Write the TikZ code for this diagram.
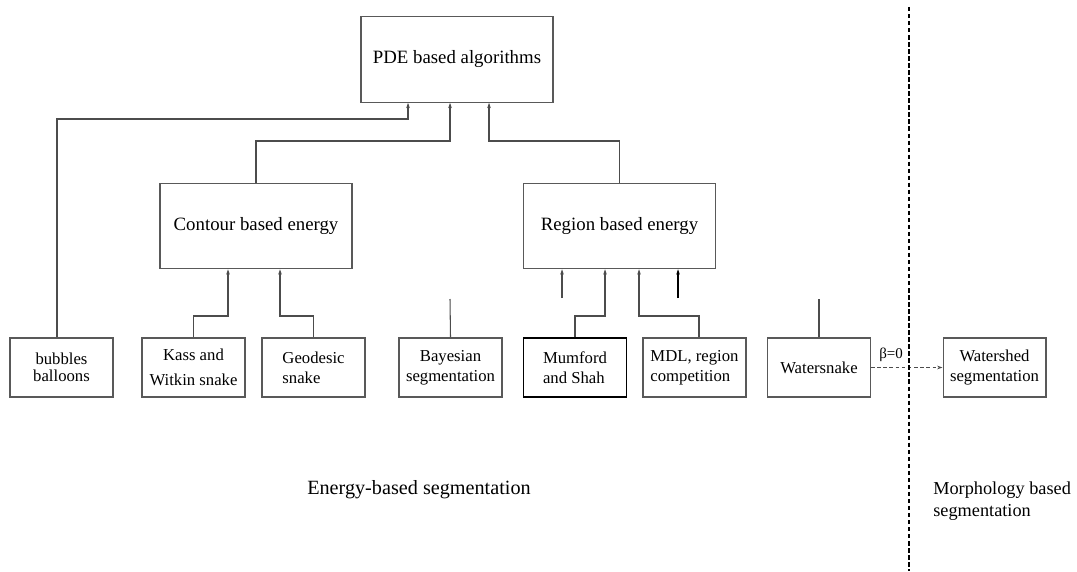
\documentclass[tikz,border=0pt]{standalone}
\usepackage{fontspec}
\setmainfont{Liberation Serif}
\usetikzlibrary{arrows.meta,calc}

\tikzset{
	bigbox/.style={draw=black!65, line width=0.6pt, minimum width=3.84cm, minimum height=1.71cm, inner sep=0pt, font=\fontsize{10.7}{12}\selectfont},
	smallbox/.style={draw=black!65, line width=0.6pt, minimum width=2.06cm, minimum height=1.18cm, inner sep=0pt, font=\fontsize{9.5}{11.5}\selectfont},
	link/.style={draw=black!70, line width=0.6pt, -{Stealth[length=3pt,width=2pt]}},
	wire/.style={draw=black!70, line width=0.6pt},
	divider/.style={draw=black, line width=0.7pt, dash pattern=on 2.5pt off 1.5pt},
	caption/.style={font=\fontsize{11.5}{13}\selectfont}
}

\begin{document}
\begin{tikzpicture}[x=0.02cm, y=-0.02cm]
			%%%%% START %%%%%
			
			\useasboundingbox (0,0) rectangle (1077,571);
			
			\node[bigbox] (pde) at (457,59.5) {PDE based algorithms};
			\node[bigbox] (contour) at (256,226) {Contour based energy};
			\node[bigbox] (region) at (619.5,226) {Region based energy};
			
			\node[smallbox, align=center] (bubbles) at (61.5,367.5) {bubbles\\[-2pt]balloons};
			\node[smallbox, align=center] (kass) at (193.5,367.5) {Kass and\\[3pt]Witkin snake};
			\node[smallbox, align=left] (geodesic) at (313.5,367.5) {Geodesic\\snake};
			\node[smallbox, align=center] (bayes) at (450.5,367.5) {Bayesian\\segmentation};
			\node[smallbox, align=left, draw=black, line width=0.8pt] (mumford) at (575,367.5) {Mumford\\and Shah};
			\node[smallbox, align=left] (mdl) at (694.5,367.5) {MDL, region\\competition};
			\node[smallbox] (watersnake) at (819,367.5) {Watersnake};
			\node[smallbox, align=center] (watershed) at (994.5,367.5) {Watershed\\segmentation};
			
			\draw[link] ([xshift=-0.09cm]bubbles.north) |- (408,119) -- (pde.south -| 408,119);
			\draw[link] (contour.north) |- (450,141) -- (pde.south -| 450,141);
			\draw[link] (region.north) |- (489,141) -- (pde.south -| 489,141);
			
			\draw[link] (kass.north) |- (228,316) -- (contour.south -| 228,316);
			\draw[link] (geodesic.north) |- (280,316) -- (contour.south -| 280,316);
			
			\coordinate (ra) at (562,298);
			\coordinate (rb) at (678,298);
			\draw[link] (ra) -- (region.south -| ra);
			\draw[link] (mumford.north) |- (605,316) -- (region.south -| 605,316);
			\draw[link] ([xshift=0.09cm]mdl.north) |- (639,316) -- (region.south -| 639,316);
			\draw[link, draw=black, line width=0.9pt] (rb) -- (region.south -| rb);
			
			\coordinate (bt) at (450,299);
			\coordinate (wt) at (819,299);
			\draw[wire] (bayes.north) -- (bt);
			\draw[wire] (watersnake.north) -- (wt);
			
			\draw[link, dash pattern=on 2pt off 1.5pt] (watersnake) -- (watershed) node[pos=0.28, above, font=\fontsize{8.5}{10}\selectfont, inner sep=3pt] (beta) {β=0};
			
			\coordinate (dtop) at (909,7);
			\coordinate (dbot) at (909,571);
			\draw[divider] (dtop) -- (dbot);
			
			\node[caption] (energy) at (419,490) {Energy-based segmentation};
			\node[caption, align=left, anchor=west, inner sep=0pt, font=\fontsize{10.4}{12.5}\selectfont] (morph) at (933,501) {Morphology based\\segmentation};
			
			%%%%% END %%%%%
\end{tikzpicture}
\end{document}
